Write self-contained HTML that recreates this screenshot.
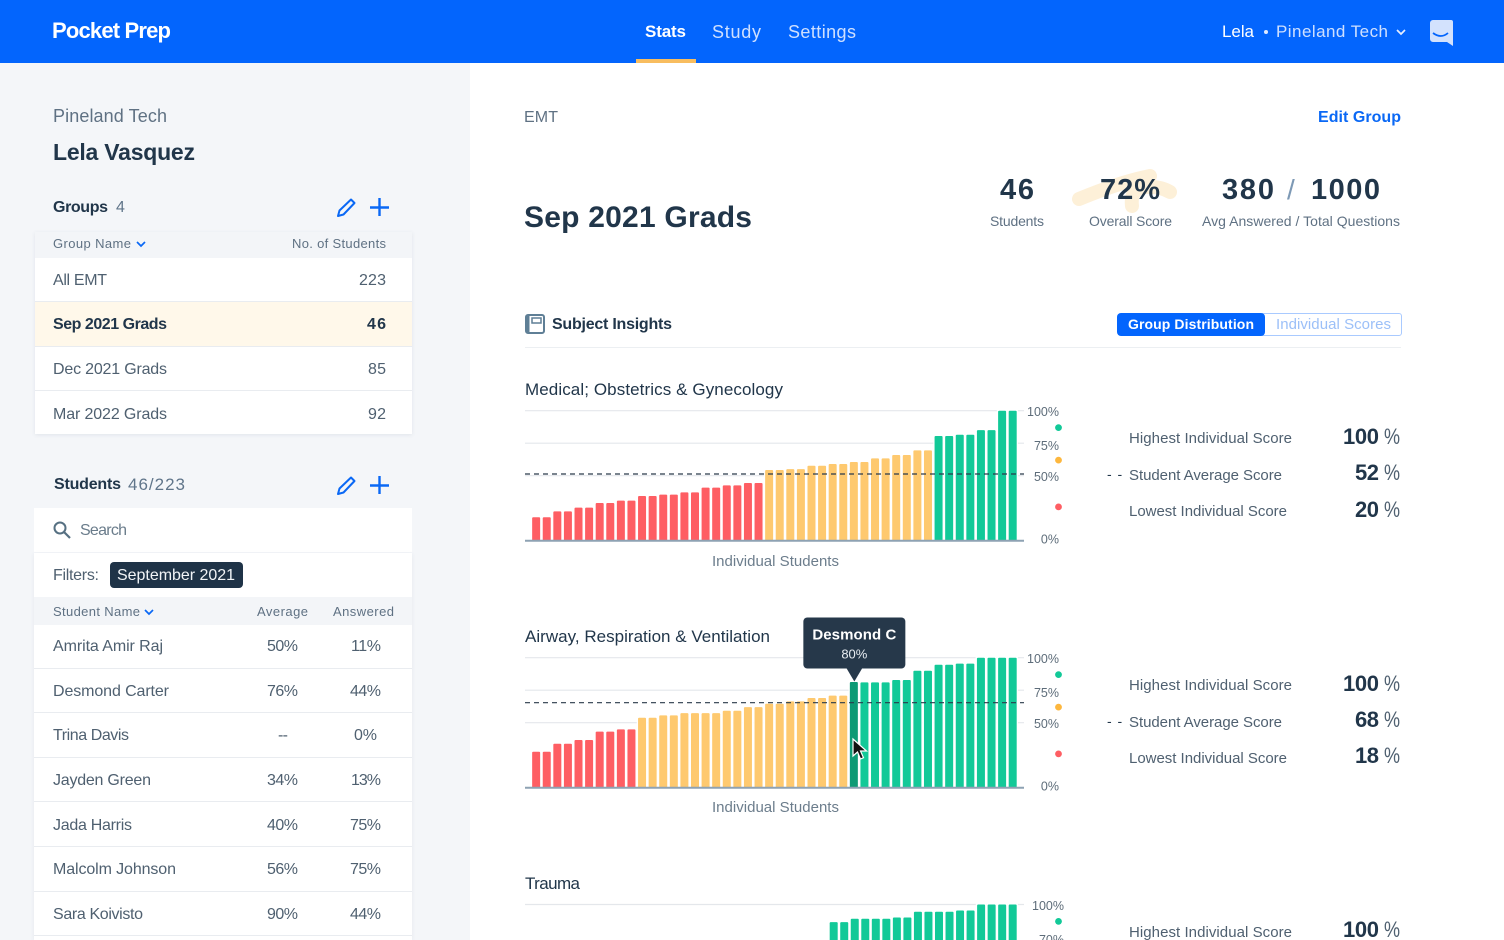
<!DOCTYPE html>
<html lang="en">
<head>
<meta charset="utf-8">
<title>Pocket Prep - Stats</title>
<style>
html,body{margin:0;padding:0;background:#fff}
#page{position:relative;width:1504px;height:940px;overflow:hidden;background:#fff;font-family:"Liberation Sans",sans-serif;color:#4f6070}
.t{position:absolute;white-space:nowrap;line-height:20px;height:20px;font-size:16px}
.b{font-weight:bold}
.dk{color:#21364a}
.pct{font-size:22px;transform:scaleX(.82);transform-origin:left center}
.box{position:absolute}
svg.ic{position:absolute;overflow:visible}
</style>
</head>
<body>
<div id="page">

<div class="box" style="left:0;top:0;width:1504px;height:63px;background:#0365fd"></div>
<div class="t b" data-fit="119" style="left:52px;top:21px;font-size:22px;color:#fff">Pocket Prep</div>
<div class="t b" data-fit="41" style="left:645px;top:22px;font-size:17px;color:#fff">Stats</div>
<div class="box" style="left:636px;top:59px;width:60px;height:4px;background:#f8bd5f"></div>
<div class="t" data-fit="49" style="left:712px;top:22px;font-size:18px;color:#cfe0ff">Study</div>
<div class="t" data-fit="68" style="left:788px;top:22px;font-size:18px;color:#cfe0ff">Settings</div>
<div class="t" data-fit="32" style="left:1222px;top:22px;font-size:17px;color:#fff">Lela</div>
<div class="box" style="left:1264px;top:30px;width:4px;height:4px;border-radius:50%;background:#dfe9ff"></div>
<div class="t" data-fit="112" style="left:1276px;top:22px;font-size:17px;color:#cfe0ff">Pineland Tech</div>
<svg class="ic" style="left:1396px;top:29px" width="10" height="7" viewBox="0 0 10 7"><path d="M1 1l4 4 4-4" fill="none" stroke="#e6eeff" stroke-width="1.7"/></svg>
<svg class="ic" style="left:1430px;top:20px" width="23" height="26" viewBox="0 0 23 26"><path d="M3 0h18a2 2 0 0 1 2 2v24l-6-4H3a3 3 0 0 1-3-3V3a3 3 0 0 1 3-3z" fill="#d3e2fd"/><path d="M3 13q8 6 15 0" fill="none" stroke="#0365fd" stroke-width="1.8"/></svg>

<div class="box" style="left:0;top:63px;width:470px;height:877px;background:#f4f6f9"></div>
<div class="t" data-fit="114" style="left:53px;top:106px;font-size:18px;color:#5f7183">Pineland Tech</div>
<div class="t b dk" data-fit="142" style="left:53px;top:142px;font-size:23px">Lela Vasquez</div>

<div class="t b dk" data-fit="55" style="left:53px;top:198px;font-size:16px">Groups</div>
<div class="t" style="left:116px;top:198px;font-size:16px;color:#60758a">4</div>
<svg class="ic" style="left:337px;top:198px" width="19" height="19" viewBox="0 0 19 19"><path d="M14 1.500l3.500 3.500L6.500 16.500 1 18l1.500-5.500z" fill="none" stroke="#0a68f5" stroke-width="2" stroke-linejoin="round"/></svg>
<svg class="ic" style="left:370px;top:198px" width="19" height="19" viewBox="0 0 19 19"><path d="M9.500 0v18M0 9.500h19" fill="none" stroke="#0a68f5" stroke-width="2.400"/></svg>

<div class="box" style="left:35px;top:232px;width:377px;height:202px;background:#fff;box-shadow:0 1px 4px rgba(60,80,110,.1)"></div>
<div class="box" style="left:35px;top:232px;width:377px;height:26px;background:#f3f5f8"></div>
<div class="t" data-fit="78" style="left:53px;top:234px;font-size:13px;color:#5f7183">Group Name</div>
<svg class="ic" style="left:136px;top:241px" width="10" height="7" viewBox="0 0 10 7"><path d="M1 1l4 4 4-4" fill="none" stroke="#0a68f5" stroke-width="1.700"/></svg>
<div class="t" data-fit="94" style="left:292px;top:234px;font-size:13px;color:#5f7183">No. of Students</div>

<div class="box" style="left:35px;top:302px;width:377px;height:44px;background:#fff8ea"></div>
<div class="box" style="left:35px;top:301px;width:377px;height:1px;background:#e9ecf0"></div>
<div class="box" style="left:35px;top:346px;width:377px;height:1px;background:#e9ecf0"></div>
<div class="box" style="left:35px;top:390px;width:377px;height:1px;background:#e9ecf0"></div>
<div class="t" data-fit="54" style="left:53px;top:271px">All EMT</div>
<div class="t" data-fit="27" style="left:359px;top:271px">223</div>
<div class="t b dk" data-fit="114" style="left:53px;top:315px">Sep 2021 Grads</div>
<div class="t b dk" data-fit="19" style="left:367px;top:315px">46</div>
<div class="t" data-fit="114" style="left:53px;top:360px">Dec 2021 Grads</div>
<div class="t" data-fit="18" style="left:368px;top:360px">85</div>
<div class="t" data-fit="114" style="left:53px;top:405px">Mar 2022 Grads</div>
<div class="t" data-fit="18" style="left:368px;top:405px">92</div>

<div class="t b dk" data-fit="67" style="left:54px;top:475px;font-size:16px">Students</div>
<div class="t" data-fit="57" style="left:128px;top:475px;font-size:17px;color:#60758a">46/223</div>
<svg class="ic" style="left:337px;top:476px" width="19" height="19" viewBox="0 0 19 19"><path d="M14 1.500l3.500 3.500L6.500 16.500 1 18l1.500-5.500z" fill="none" stroke="#0a68f5" stroke-width="2" stroke-linejoin="round"/></svg>
<svg class="ic" style="left:370px;top:476px" width="19" height="19" viewBox="0 0 19 19"><path d="M9.500 0v18M0 9.500h19" fill="none" stroke="#0a68f5" stroke-width="2.400"/></svg>

<div class="box" style="left:34px;top:508px;width:378px;height:44px;background:#fff"></div>
<svg class="ic" style="left:53px;top:521px" width="18" height="18" viewBox="0 0 18 18"><circle cx="7" cy="7" r="5.500" fill="none" stroke="#567082" stroke-width="2"/><path d="M11 11l6 6" stroke="#567082" stroke-width="2.200"/></svg>
<div class="t" data-fit="47" style="left:80px;top:521px;color:#6a7c8b">Search</div>

<div class="box" style="left:34px;top:553px;width:378px;height:387px;background:#fff;box-shadow:0 1px 4px rgba(60,80,110,.08)"></div>
<div class="t" data-fit="46" style="left:53px;top:566px">Filters:</div>
<div class="box" style="left:110px;top:562px;width:133px;height:26px;border-radius:4px;background:#1f3347"></div>
<div class="t" data-fit="118" style="left:117px;top:566px;color:#f1f4f7">September 2021</div>
<div class="box" style="left:34px;top:597px;width:378px;height:28px;background:#f3f5f8"></div>
<div class="t" data-fit="87" style="left:53px;top:602px;font-size:13px;color:#5f7183">Student Name</div>
<svg class="ic" style="left:144px;top:609px" width="10" height="7" viewBox="0 0 10 7"><path d="M1 1l4 4 4-4" fill="none" stroke="#0a68f5" stroke-width="1.700"/></svg>
<div class="t" data-fit="51" style="left:257px;top:602px;font-size:13px;color:#5f7183">Average</div>
<div class="t" data-fit="61" style="left:333px;top:602px;font-size:13px;color:#5f7183">Answered</div>

<div class="box" style="left:34px;top:668px;width:378px;height:1px;background:#e9ecf0"></div>
<div class="box" style="left:34px;top:712px;width:378px;height:1px;background:#e9ecf0"></div>
<div class="box" style="left:34px;top:757px;width:378px;height:1px;background:#e9ecf0"></div>
<div class="box" style="left:34px;top:801px;width:378px;height:1px;background:#e9ecf0"></div>
<div class="box" style="left:34px;top:846px;width:378px;height:1px;background:#e9ecf0"></div>
<div class="box" style="left:34px;top:891px;width:378px;height:1px;background:#e9ecf0"></div>
<div class="box" style="left:34px;top:935px;width:378px;height:1px;background:#e9ecf0"></div>

<div class="t" data-fit="110" style="left:53px;top:637px">Amrita Amir Raj</div>
<div class="t" data-fit="31" style="left:267px;top:637px">50%</div>
<div class="t" data-fit="30" style="left:351px;top:637px">11%</div>
<div class="t" data-fit="116" style="left:53px;top:682px">Desmond Carter</div>
<div class="t" data-fit="31" style="left:267px;top:682px">76%</div>
<div class="t" data-fit="31" style="left:350px;top:682px">44%</div>
<div class="t" data-fit="76" style="left:53px;top:726px">Trina Davis</div>
<div class="t" data-fit="10" style="left:278px;top:726px">--</div>
<div class="t" data-fit="23" style="left:354px;top:726px">0%</div>
<div class="t" data-fit="98" style="left:53px;top:771px">Jayden Green</div>
<div class="t" data-fit="31" style="left:267px;top:771px">34%</div>
<div class="t" data-fit="30" style="left:351px;top:771px">13%</div>
<div class="t" data-fit="79" style="left:53px;top:816px">Jada Harris</div>
<div class="t" data-fit="31" style="left:267px;top:816px">40%</div>
<div class="t" data-fit="31" style="left:350px;top:816px">75%</div>
<div class="t" data-fit="123" style="left:53px;top:860px">Malcolm Johnson</div>
<div class="t" data-fit="31" style="left:267px;top:860px">56%</div>
<div class="t" data-fit="31" style="left:350px;top:860px">75%</div>
<div class="t" data-fit="90" style="left:53px;top:905px">Sara Koivisto</div>
<div class="t" data-fit="31" style="left:267px;top:905px">90%</div>
<div class="t" data-fit="31" style="left:350px;top:905px">44%</div>

<div class="t" data-fit="34" style="left:524px;top:108px;font-size:16px;color:#5f7183">EMT</div>
<div class="t b" data-fit="83" style="left:1318px;top:108px;font-size:16px;color:#0a68f5">Edit Group</div>
<div class="t b dk" data-fit="228" style="left:524px;top:207px;font-size:30px;line-height:22px">Sep 2021 Grads</div>

<svg class="ic" style="left:1060px;top:160px" width="130" height="60" viewBox="0 0 130 60"><path d="M19 39Q60 22 90 16M72 46Q70 28 85 27Q100 26 110 32" fill="none" stroke="#fdf0d8" stroke-width="14" stroke-linecap="round" stroke-linejoin="round"/></svg>
<div class="t b dk" data-fit="34" style="left:1000px;top:180px;font-size:29px">46</div>
<div class="t" data-fit="54" style="left:990px;top:211px;font-size:14px;color:#5f7183">Students</div>
<div class="t b dk" data-fit="60" style="left:1100px;top:180px;font-size:29px">72%</div>
<div class="t" data-fit="83" style="left:1089px;top:211px;font-size:14px;color:#5f7183">Overall Score</div>
<div class="t b dk" data-fit="52" style="left:1222px;top:180px;font-size:29px">380</div>
<div class="t" style="left:1287px;top:180px;font-size:28px;color:#7d99b5">/</div>
<div class="t b dk" data-fit="69" style="left:1311px;top:180px;font-size:29px">1000</div>
<div class="t" data-fit="198" style="left:1202px;top:211px;font-size:14px;color:#5f7183">Avg Answered / Total Questions</div>

<svg class="ic" style="left:525px;top:314px" width="20" height="20" viewBox="0 0 20 20"><rect x="1" y="1" width="18" height="18" rx="2" fill="none" stroke="#5f7f96" stroke-width="2"/><rect x="1" y="1" width="3.500" height="18" fill="#5f7f96"/><rect x="7" y="4" width="9" height="5" fill="none" stroke="#5f7f96" stroke-width="1.500"/></svg>
<div class="t b dk" data-fit="120" style="left:552px;top:315px;font-size:16px">Subject Insights</div>
<div class="box" style="left:1260px;top:313px;width:140px;height:21px;border:1px solid #a9caff;border-radius:3px;background:#fff"></div>
<div class="t" data-fit="115" style="left:1276px;top:315px;font-size:15px;color:#9cc0f8">Individual Scores</div>
<div class="box" style="left:1117px;top:313px;width:148px;height:23px;border-radius:4px;background:#0365fd"></div>
<div class="t b" data-fit="126" style="left:1128px;top:314px;font-size:14px;color:#fff">Group Distribution</div>
<div class="box" style="left:525px;top:347px;width:876px;height:1px;background:#eceff2"></div>

<div class="t dk" data-fit="258" style="left:525px;top:380px;font-size:17px">Medical; Obstetrics &amp; Gynecology</div>
<div class="t dk" data-fit="245" style="left:525px;top:627px;font-size:17px">Airway, Respiration &amp; Ventilation</div>
<div class="t dk" data-fit="55" style="left:525px;top:874px;font-size:17px">Trauma</div>
<div class="t" data-fit="127" style="left:712px;top:552px;font-size:15px;color:#6c7d8c">Individual Students</div>
<div class="t" data-fit="127" style="left:712px;top:798px;font-size:15px;color:#6c7d8c">Individual Students</div>

<svg id="charts" style="position:absolute;left:0;top:0" width="1504" height="940" viewBox="0 0 1504 940"></svg>

<svg class="ic" style="left:850px;top:736px" width="20" height="28" viewBox="0 0 20 28"><path d="M3 3v17l4.500-4 3 7 3-1.300-3-6.700 6 0z" fill="#111" stroke="#fff" stroke-width="1.200"/></svg>

<div class="t" data-fit="163" style="left:1129px;top:429px;font-size:15px">Highest Individual Score</div>
<div class="t b dk" data-fit="36" style="left:1343px;top:427px;font-size:22px">100</div>
<div class="t pct" style="left:1384px;top:427px">%</div>
<div class="t" style="left:1107px;top:464px;font-size:14px;color:#21364a;letter-spacing:1px">- -</div>
<div class="t" data-fit="153" style="left:1129px;top:466px;font-size:15px">Student Average Score</div>
<div class="t b dk" data-fit="24" style="left:1355px;top:463px;font-size:22px">52</div>
<div class="t pct" style="left:1384px;top:463px">%</div>
<div class="t" data-fit="158" style="left:1129px;top:502px;font-size:15px">Lowest Individual Score</div>
<div class="t b dk" data-fit="24" style="left:1355px;top:500px;font-size:22px">20</div>
<div class="t pct" style="left:1384px;top:500px">%</div>

<div class="t" data-fit="163" style="left:1129px;top:676px;font-size:15px">Highest Individual Score</div>
<div class="t b dk" data-fit="36" style="left:1343px;top:674px;font-size:22px">100</div>
<div class="t pct" style="left:1384px;top:674px">%</div>
<div class="t" style="left:1107px;top:711px;font-size:14px;color:#21364a;letter-spacing:1px">- -</div>
<div class="t" data-fit="153" style="left:1129px;top:713px;font-size:15px">Student Average Score</div>
<div class="t b dk" data-fit="24" style="left:1355px;top:710px;font-size:22px">68</div>
<div class="t pct" style="left:1384px;top:710px">%</div>
<div class="t" data-fit="158" style="left:1129px;top:749px;font-size:15px">Lowest Individual Score</div>
<div class="t b dk" data-fit="24" style="left:1355px;top:746px;font-size:22px">18</div>
<div class="t pct" style="left:1384px;top:746px">%</div>

<div class="t" data-fit="163" style="left:1129px;top:923px;font-size:15px">Highest Individual Score</div>
<div class="t b dk" data-fit="36" style="left:1343px;top:920px;font-size:22px">100</div>
<div class="t pct" style="left:1384px;top:920px">%</div>
</div>

<script>
// Chart data
const medicalScores = [18,18,22.6,22.6,25.4,25.4,29,29,30.8,30.8,34.4,34.4,35.4,35.4,37.2,37.2,40.8,40.8,42.6,42.6,44.4,44.4,54.4,54.4,55.1,55.1,57.7,57.7,59,59,60.5,60.5,63.3,63.3,65.9,65.9,69.5,69.5,80.5,80.5,81.5,81.5,85.1,85.1,100,100];
const airwayScores = [27.7,27.7,33.8,33.8,36.7,36.7,43.1,43.1,44.9,44.9,53.8,53.8,55.6,55.6,57.4,57.4,57.4,57.4,59.2,59.2,62,62,64.6,64.6,66.4,66.4,69,69,70.8,70.8,81.3,81,81,81,82.8,82.8,90,90,94.6,94.6,95.4,95.4,100,100,100,100];
// Bars before index 28 fall below the visible edge of the page, so those are estimates.
const traumaScores = [24,24,30,30,36,36,41,41,46,46,52,52,55,55,58,58,60,60,62,62,64,64,66,66,68,68,70,70,86.4,86.4,89,89,89,89,90,90,94.4,94.4,94.4,94.4,95.4,95.4,100,100,100,100];
const averageValues = [51.3, 65.4, 60];
const chartTickValues = [100, 75, 50, 0];
const chartTickLabels = ['100%', '75%', '50%', '0%'];
const traumaTickValues = [100, 75];
const traumaTickLabels = ['100%', '70%'];
const gridValues = [100, 75, 50];
const traumaGridValues = [100];
const bandMarkerValues = [87, 62, 26];
const tooltipName = 'Desmond C';
const tooltipValue = '80%';
const highlightedStudent = 30;

const SVG_NS = 'http://www.w3.org/2000/svg';
const chartsRoot = document.getElementById('charts');
const PLOT_LEFT = 525, PLOT_RIGHT = 1024, PLOT_H = 130, LAST_BAR_X = 1008.7, BAR_W = 8;
const GREEN = '#12c998', GREEN_DARK = '#0d9a75', YELLOW = '#fec96f', RED = '#fe5e63';

function make(tag, attrs, parent) {
  const el = document.createElementNS(SVG_NS, tag);
  for (const k in attrs) el.setAttribute(k, attrs[k]);
  parent.appendChild(el);
  return el;
}
function barColor(v) { return v < 50 ? RED : v < 75 ? YELLOW : GREEN; }
function markerColor(i) { return ['#12c998', '#fdb73e', '#fe5e63'][i]; }
function tickNudge(v) { return v === 75 ? 2 : v === 0 ? -2 : 0.5; }

function drawChart(prefix, scores, average, tickValues, tickLabels, grid, top, tickRight, barStep, markers, highlight) {
  const yScale = v => top + PLOT_H * (1 - v / 100);
  const xScale = i => LAST_BAR_X - (scores.length - 1 - i) * barStep;
  const g = make('g', {}, chartsRoot);
  
  

  grid.forEach(v => {
    const line = make('line', {x1: PLOT_LEFT, x2: PLOT_RIGHT, y1: yScale(v), y2: yScale(v), stroke: '#e4e7eb', 'stroke-width': 1.2}, g);
    
    
  });

  scores.forEach((v, i) => {
    const slot = make('rect', {x: xScale(i) - 1.3, width: barStep, y: yScale(v) - 1, height: PLOT_H * v / 100 + 1, fill: '#fff'}, g);
    
    
    const bar = make('rect', {x: xScale(i), width: BAR_W, y: yScale(v), height: PLOT_H * v / 100, rx: 1,
      fill: i === highlight ? GREEN_DARK : barColor(v)}, g);
    
    
  });

  const base = make('line', {x1: PLOT_LEFT, x2: PLOT_RIGHT, y1: yScale(0), y2: yScale(0), stroke: '#8ea2b3', 'stroke-width': 2}, g);
  
  

  const avg = make('line', {x1: PLOT_LEFT, x2: PLOT_RIGHT, y1: yScale(average), y2: yScale(average), stroke: '#2a3a4a', 'stroke-width': 1.2, 'stroke-dasharray': '5 4'}, g);
  
  

  tickValues.forEach((v, i) => {
    const tick = make('text', {x: tickRight, y: yScale(v) + 5 + tickNudge(v), 'text-anchor': 'end', 'font-size': 12.5, fill: '#5d6c79', 'font-family': '"Liberation Sans", sans-serif'}, g);
    tick.textContent = tickLabels[i];
    
    
  });

  markers.forEach((v, i) => {
    const dot = make('circle', {cx: 1058.5, cy: yScale(v), r: 3.4, fill: markerColor(i)}, g);
    
    
  });

  if (highlight !== null) {
    const cx = xScale(highlight) + BAR_W / 2 + 0.5;
    const tip = yScale(scores[highlight]) - 0.5;
    const tt = make('g', {}, g);
    
    
    make('rect', {x: cx - 51, y: tip - 64, width: 102, height: 51, rx: 4, fill: '#26384a'}, tt);
    make('path', {d: 'M' + (cx - 8) + ' ' + (tip - 13.5) + 'L' + cx + ' ' + tip + 'L' + (cx + 8) + ' ' + (tip - 13.5) + 'Z', fill: '#26384a'}, tt);
    const name = make('text', {x: cx, y: tip - 42, 'text-anchor': 'middle', 'font-size': 15, 'font-weight': 'bold', fill: '#fff', 'font-family': '"Liberation Sans", sans-serif', textLength: 84}, tt);
    name.textContent = tooltipName;
    const val = make('text', {x: cx, y: tip - 23, 'text-anchor': 'middle', 'font-size': 13, fill: '#e8edf2', 'font-family': '"Liberation Sans", sans-serif'}, tt);
    val.textContent = tooltipValue;
  }
}

drawChart('medical', medicalScores, averageValues[0], chartTickValues, chartTickLabels, gridValues, 410.7, 1059, 10.59, bandMarkerValues, null);
drawChart('airway', airwayScores, averageValues[1], chartTickValues, chartTickLabels, gridValues, 657.7, 1059, 10.59, bandMarkerValues, highlightedStudent);
drawChart('trauma', traumaScores, averageValues[2], traumaTickValues, traumaTickLabels, traumaGridValues, 904.5, 1064, 10.53, bandMarkerValues.slice(0, 1), null);

// Fit text runs to the measured widths of the reference
document.querySelectorAll('[data-fit]').forEach(el => {
  const target = parseFloat(el.getAttribute('data-fit'));
  const range = document.createRange();
  range.selectNodeContents(el);
  const actual = range.getBoundingClientRect().width;
  const n = el.textContent.length;
  if (n > 1) el.style.letterSpacing = ((target - actual) / (n - 1)).toFixed(3) + 'px';
});
</script>
</body>
</html>
